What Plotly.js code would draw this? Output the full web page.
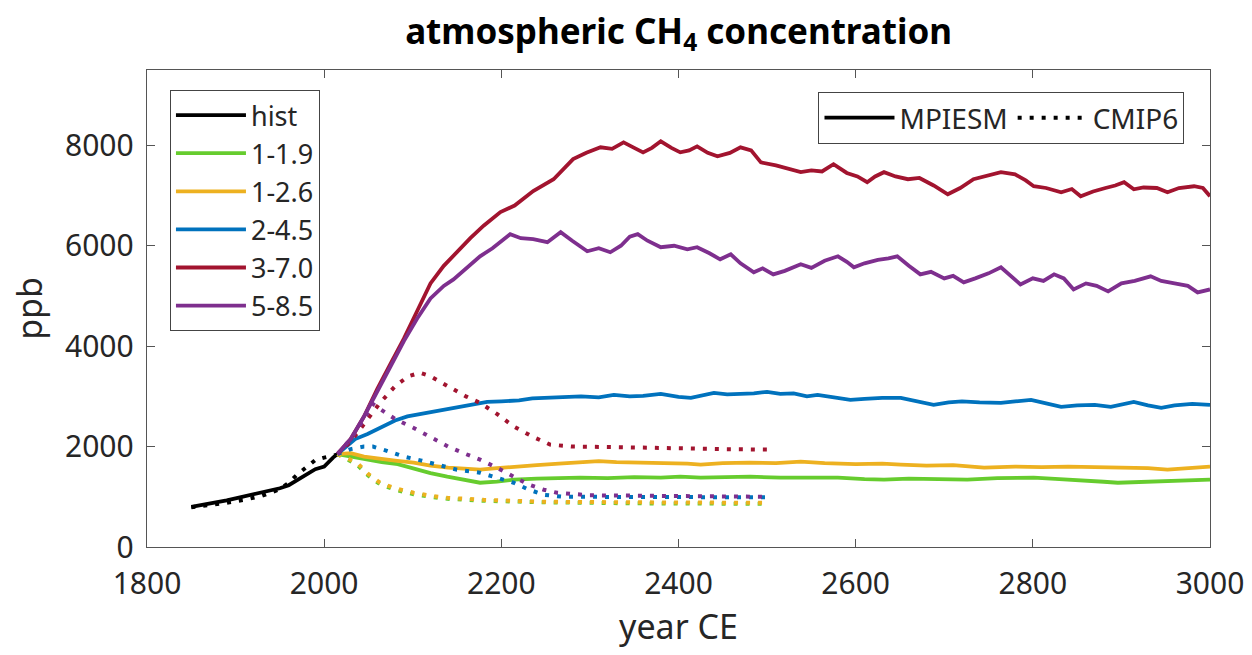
<!DOCTYPE html>
<html>
<head>
<meta charset="utf-8">
<script src="https://cdn.plot.ly/plotly-3.0.1.min.js"></script>
<style>html,body{margin:0;padding:0;background:#fff;}#chart{width:1252px;height:655px;}</style>
</head>
<body>
<div id="chart"></div>
<script>
// ---- historical ----
const histYears = [1850,1860,1870,1880,1890,1900,1910,1920,1930,1940,1950,1960,1970,1980,1990,2000,2005,2010,2015];
const histVals  = [800,830,860,900,930,970,1010,1050,1090,1130,1170,1230,1330,1450,1550,1600,1700,1780,1850];
const histCmipYears = [1850,1870,1890,1910,1930,1950,1960,1970,1980,1990,2000,2010,2015];
const histCmipVals  = [790,830,880,940,1020,1150,1280,1450,1580,1730,1780,1820,1840];

// ---- MPIESM scenarios ----
const s119Years = [2015,2030,2045,2065,2083,2100,2120,2139,2160,2176,2195,2214,2240,2265,2289,2320,2350,2380,2402,2425,2450,2481,2515,2550,2580,2610,2632,2660,2690,2726,2760,2801,2830,2860,2880,2896,2920,2950,2975,3000];
const s119Vals  = [1850,1800,1740,1690,1650,1560,1470,1400,1330,1280,1300,1340,1360,1370,1380,1370,1390,1380,1400,1380,1390,1400,1380,1370,1380,1350,1340,1360,1350,1340,1370,1380,1350,1330,1300,1280,1290,1320,1330,1340];

const s126Years = [2015,2030,2045,2060,2080,2101,2120,2140,2160,2176,2195,2214,2240,2265,2289,2310,2330,2365,2390,2410,2425,2450,2480,2510,2538,2565,2600,2630,2651,2680,2710,2745,2780,2810,2840,2870,2900,2930,2952,2975,3000];
const s126Vals  = [1850,1870,1800,1760,1720,1680,1620,1580,1560,1540,1570,1600,1630,1660,1680,1710,1690,1680,1660,1660,1640,1670,1680,1670,1700,1670,1650,1660,1640,1620,1630,1580,1600,1590,1600,1590,1580,1570,1540,1570,1600];

const s245Years = [2015,2025,2035,2049,2065,2080,2094,2110,2125,2146,2165,2184,2200,2220,2235,2252,2270,2290,2310,2327,2345,2360,2380,2400,2414,2428,2440,2455,2470,2485,2500,2515,2530,2545,2557,2575,2594,2610,2630,2651,2670,2688,2705,2720,2740,2764,2780,2798,2815,2832,2850,2870,2888,2900,2914,2930,2945,2960,2980,3000];
const s245Vals  = [1850,2000,2150,2250,2400,2520,2600,2650,2700,2770,2820,2890,2900,2920,2960,2970,2990,3000,2980,3030,3000,3010,3050,2990,2970,3030,3070,3040,3050,3060,3090,3050,3060,3000,3030,2980,2930,2950,2970,2970,2900,2830,2880,2900,2880,2870,2900,2930,2860,2790,2820,2830,2790,2840,2890,2820,2770,2820,2850,2830];

const s370Years = [2015,2030,2045,2060,2075,2090,2105,2120,2135,2150,2165,2180,2199,2215,2236,2259,2281,2296,2312,2325,2338,2350,2360,2370,2380,2392,2402,2412,2421,2433,2444,2458,2470,2482,2493,2510,2525,2538,2550,2562,2575,2590,2602,2613,2622,2632,2645,2659,2672,2688,2704,2718,2733,2748,2764,2780,2792,2801,2815,2832,2844,2854,2868,2882,2893,2903,2914,2925,2940,2952,2965,2982,2992,3000];
const s370Vals  = [1850,2150,2600,3150,3650,4150,4700,5250,5600,5880,6150,6400,6670,6800,7090,7325,7725,7850,7960,7930,8060,7950,7860,7950,8080,7950,7860,7900,7980,7850,7780,7850,7960,7900,7660,7600,7520,7465,7500,7480,7625,7450,7380,7265,7380,7465,7380,7325,7350,7200,7025,7150,7325,7400,7465,7420,7300,7185,7150,7065,7130,6985,7080,7150,7200,7265,7125,7160,7150,7065,7150,7185,7150,6985];

const s585Years = [2015,2030,2045,2060,2075,2090,2105,2120,2135,2146,2160,2176,2190,2200,2210,2222,2236,2252,2267,2280,2297,2310,2323,2335,2345,2354,2365,2380,2395,2410,2421,2435,2447,2459,2470,2485,2495,2507,2520,2538,2550,2565,2580,2590,2598,2610,2625,2637,2647,2660,2673,2685,2700,2710,2722,2735,2750,2764,2775,2786,2800,2812,2824,2835,2846,2860,2872,2885,2900,2915,2933,2945,2960,2975,2986,3000];
const s585Vals  = [1850,2150,2600,3120,3600,4100,4550,4950,5200,5330,5550,5790,5950,6100,6230,6150,6130,6070,6270,6100,5890,5950,5870,6000,6180,6230,6100,5970,6000,5930,5970,5850,5730,5830,5650,5470,5550,5430,5500,5630,5560,5700,5790,5680,5570,5650,5720,5750,5790,5600,5430,5480,5350,5400,5270,5350,5450,5570,5400,5230,5350,5300,5430,5350,5130,5250,5200,5090,5250,5300,5390,5300,5250,5200,5070,5130];

// ---- CMIP6 scenarios (to 2500) ----
const c119Years = [2015,2025,2037,2050,2063,2080,2101,2120,2139,2180,2252,2350,2500];
const c119Vals  = [1850,1760,1640,1420,1250,1140,1050,1000,960,920,890,870,860];
const c126Years = [2015,2025,2037,2050,2063,2080,2101,2120,2139,2180,2252,2350,2500];
const c126Vals  = [1850,1780,1680,1450,1280,1170,1080,1020,980,940,900,890,880];
const c245Years = [2015,2030,2045,2055,2070,2090,2110,2130,2150,2176,2195,2214,2230,2248,2270,2350,2500];
const c245Vals  = [1850,1950,2000,2000,1920,1800,1720,1620,1540,1480,1380,1280,1150,1040,1000,990,990];
const c370Years = [2015,2030,2045,2063,2080,2095,2108,2120,2140,2160,2176,2195,2214,2235,2255,2280,2327,2400,2450,2500];
const c370Vals  = [1850,2100,2450,2870,3200,3400,3470,3400,3200,3000,2870,2650,2400,2200,2040,2000,1990,1960,1950,1940];
const c585Years = [2015,2030,2045,2055,2063,2080,2100,2120,2140,2160,2176,2195,2214,2230,2248,2263,2300,2400,2500];
const c585Vals  = [1850,2150,2550,2850,2750,2550,2380,2200,2000,1850,1740,1580,1400,1250,1140,1080,1030,1010,1000];

const names  = ['hist','1-1.9','1-2.6','2-4.5','3-7.0','5-8.5'];
const colors = ['#000000','#66cc2e','#edb120','#0072bd','#a2142f','#7e2f8e'];
const xTicks = [1800,2000,2200,2400,2600,2800,3000];
const yTicks = [0,2000,4000,6000,8000];

const solid = [[histYears,histVals],[s119Years,s119Vals],[s126Years,s126Vals],[s245Years,s245Vals],[s370Years,s370Vals],[s585Years,s585Vals]];
const dotted = [[histCmipYears,histCmipVals],[c119Years,c119Vals],[c126Years,c126Vals],[c245Years,c245Vals],[c370Years,c370Vals],[c585Years,c585Vals]];

const traces = [];
solid.forEach((d,i)=>{
  traces.push({x:d[0],y:d[1],type:'scatter',mode:'lines',name:names[i],legend:'legend',
    line:{color:colors[i],width:3.8},showlegend:true});
});
dotted.forEach((d,i)=>{
  traces.push({x:d[0],y:d[1],type:'scatter',mode:'lines',name:names[i]+' CMIP6',legend:'legend',
    line:{color:colors[i],width:4,dash:'4px,8px'},showlegend:false});
});
traces.push({x:[null],y:[null],type:'scatter',mode:'lines',name:'MPIESM',legend:'legend2',line:{color:'#000',width:3.8}});
traces.push({x:[null],y:[null],type:'scatter',mode:'lines',name:'CMIP6',legend:'legend2',line:{color:'#000',width:4,dash:'4px,8px'}});

const fam = '"Noto Sans", "Open Sans", sans-serif';
const layout = {
  width:1252, height:655,
  margin:{l:147,r:42,t:70,b:108},
  paper_bgcolor:'#fff', plot_bgcolor:'#fff',
  font:{family:fam, size:27, color:'#262626'},
  title:{text:'<b>atmospheric CH<sub>4</sub> concentration</b>', x:0.542, xanchor:'center', y:0.952, yanchor:'middle',
    font:{family:fam, size:35, color:'#000'}},
  xaxis:{range:[1800,3000], tickvals:xTicks, ticktext:xTicks.map(String), showgrid:false, zeroline:false,
    showline:true, linecolor:'#555', linewidth:1.3, mirror:'ticks', ticks:'inside', ticklen:8, tickcolor:'#555',
    ticklabelstandoff:10, tickfont:{size:30}, title:{text:'year CE', font:{size:34}, standoff:10}},
  yaxis:{range:[0,9500], tickvals:yTicks, ticktext:yTicks.map(String), showgrid:false, zeroline:false,
    showline:true, linecolor:'#555', linewidth:1.3, mirror:'ticks', ticks:'inside', ticklen:8, tickcolor:'#555',
    ticklabelstandoff:6, tickfont:{size:30}, title:{text:'ppb', font:{size:34}, standoff:12}},
  legend:{x:0.0216, y:0.958, xanchor:'left', yanchor:'top', bgcolor:'#fff', bordercolor:'#444', borderwidth:1,
    font:{size:27, color:'#262626'}, tracegroupgap:0, itemwidth:70, traceorder:'normal'},
  legend2:{x:0.976, y:0.954, xanchor:'right', yanchor:'top', orientation:'h', bgcolor:'#fff', bordercolor:'#444', borderwidth:1,
    font:{size:28, color:'#262626'}, itemwidth:70},
  showlegend:true
};
Plotly.newPlot('chart', traces, layout, {displayModeBar:false, staticPlot:true});
</script>
</body>
</html>
